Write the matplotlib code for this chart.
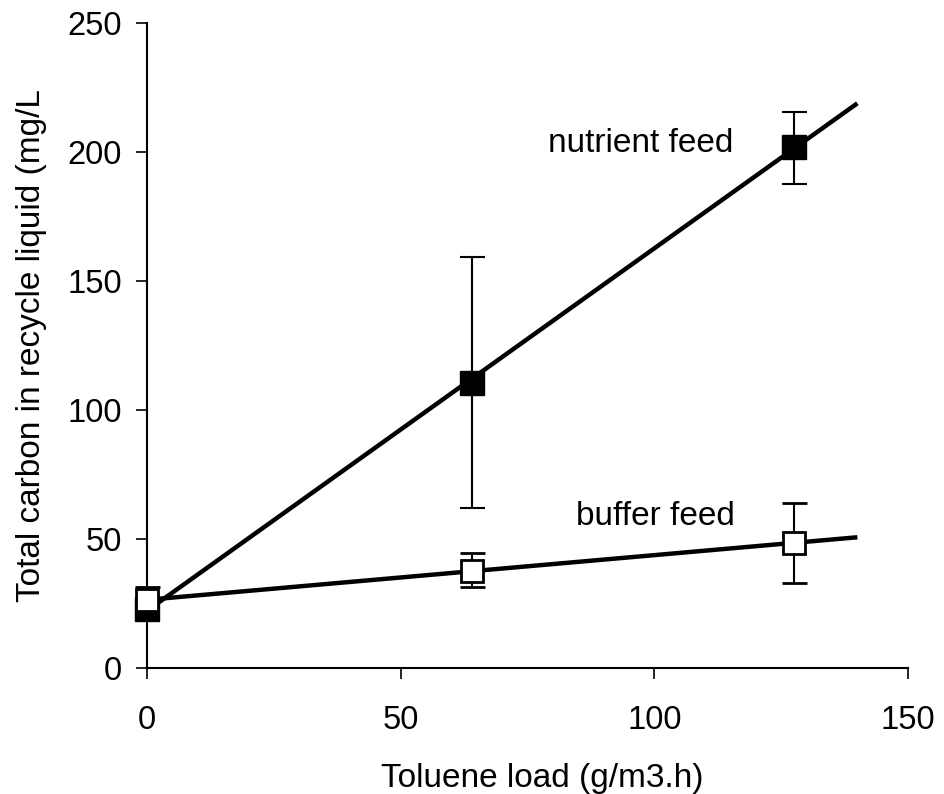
import numpy as np
import matplotlib
matplotlib.use("Agg")
import matplotlib.pyplot as plt

plt.rcParams['font.family'] = ['Liberation Sans', 'DejaVu Sans']

# Data
load = [0, 64, 127.5]
nutrient = [22.8, 110.4, 202.1]
nutrient_err_lo = [0, 48.5, 14.5]
nutrient_err_hi = [0, 48.8, 13.4]
buffer = [26.3, 37.5, 48.4]
buffer_err_lo = [0, 6.1, 15.4]
buffer_err_hi = [5.0, 7.0, 15.3]
trend_end = 140

fig = plt.figure(figsize=(9.44, 7.94), dpi=100)
ax = fig.add_axes([0.1554, 0.159, 0.8066, 0.812])

xs = np.array([0, trend_end])
for y in (nutrient, buffer):
    k, b = np.polyfit(load, y, 1)
    ax.plot(xs, k * xs + b, color='black', lw=3.2, solid_capstyle='butt', zorder=2, clip_on=False)

ax.errorbar(load, nutrient, yerr=[nutrient_err_lo, nutrient_err_hi], fmt='s', ms=17,
            mfc='black', mec='black', ecolor='black', elinewidth=1.5, capsize=9,
            capthick=1.5, zorder=3, clip_on=False)
ax.errorbar(load, buffer, yerr=[buffer_err_lo, buffer_err_hi], fmt='s', ms=15.5,
            mfc='white', mec='black', mew=2, ecolor='black', elinewidth=1.5, capsize=9,
            capthick=1.5, zorder=4, clip_on=False)

ax.text(97.4, 203.2, 'nutrient feed', fontsize=24, ha='center', va='center')
ax.text(100.2, 58.6, 'buffer feed', fontsize=24, ha='center', va='center')

ax.set_xlim(0, 150)
ax.set_ylim(0, 250)
ax.set_xticks([0, 50, 100, 150])
ax.set_yticks([0, 50, 100, 150, 200, 250])
for s in ('top', 'right'):
    ax.spines[s].set_visible(False)
for s in ('left', 'bottom'):
    ax.spines[s].set_linewidth(1.5)
ax.tick_params(direction='out', length=8, width=1.2, labelsize=23.5)
ax.tick_params(axis='x', pad=19)
ax.tick_params(axis='y', pad=10)

ax.set_xlabel('Toluene load (g/m3.h)', fontsize=24)
ax.set_ylabel('Total carbon in recycle liquid (mg/L', fontsize=24)
ax.xaxis.set_label_coords(0.52, -0.148)
ax.yaxis.set_label_coords(-0.131, 0.5)

fig.savefig('out.png', dpi=100)
